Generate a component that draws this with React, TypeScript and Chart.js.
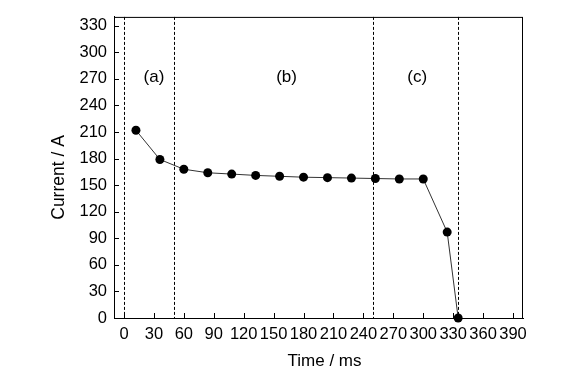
import React, { useEffect, useRef } from "react";
import { Chart, registerables } from "chart.js";

Chart.register(...registerables);

const timeMs = [12, 36, 60, 84, 108, 132, 156, 180, 204, 228, 252, 276, 300, 324, 335];
const currentA = [212, 179, 168, 164, 162.5, 161, 160, 159, 158.5, 158, 157.5, 157, 157, 97, 0];
const xTickValues = [0, 30, 60, 90, 120, 150, 180, 210, 240, 270, 300, 330, 360, 390];
const yTickValues = [0, 30, 60, 90, 120, 150, 180, 210, 240, 270, 300, 330];
const phaseBoundaries = [0, 50, 250, 335];
const phaseLabels = ["(a)", "(b)", "(c)"];
const phaseLabelX = [30, 163, 294];
const phaseLabelY = 272;
const xTitle = "Time / ms";
const yTitle = "Current / A";

const FONT = "Arial, 'Liberation Sans', sans-serif";

const decorPlugin = {
  id: "decor",
  afterDraw(chart: any) {
    const { ctx, chartArea, scales } = chart;
    const xs = scales.x;
    const ys = scales.y;
    ctx.save();
    // frame
    ctx.strokeStyle = "#000";
    ctx.lineWidth = 1;
    ctx.setLineDash([]);
    ctx.strokeRect(chartArea.left + 0.5, chartArea.top + 0.5, chartArea.right - chartArea.left - 1, chartArea.bottom - chartArea.top);
    // inward ticks
    ctx.beginPath();
    for (const v of xTickValues) {
      const px = Math.round(xs.getPixelForValue(v)) + 0.5;
      ctx.moveTo(px, chartArea.bottom);
      ctx.lineTo(px, chartArea.bottom - 5);
    }
    for (const v of yTickValues) {
      const py = Math.round(ys.getPixelForValue(v)) + 0.5;
      ctx.moveTo(chartArea.left, py);
      ctx.lineTo(chartArea.left + 5, py);
    }
    ctx.stroke();
    // dashed phase lines
    ctx.setLineDash([3, 2]);
    ctx.beginPath();
    for (const v of phaseBoundaries) {
      const px = Math.round(xs.getPixelForValue(v)) + 0.5;
      ctx.moveTo(px, chartArea.top);
      ctx.lineTo(px, chartArea.bottom);
    }
    ctx.stroke();
    ctx.setLineDash([]);
    // phase labels
    ctx.fillStyle = "#000";
    ctx.font = `17px ${FONT}`;
    ctx.textAlign = "center";
    ctx.textBaseline = "middle";
    phaseLabels.forEach((t, i) => {
      ctx.fillText(t, xs.getPixelForValue(phaseLabelX[i]), ys.getPixelForValue(phaseLabelY));
    });
    // axis titles
    ctx.font = `17px ${FONT}`;
    ctx.fillText(xTitle, (chartArea.left + chartArea.right) / 2 + 6, 361);
    ctx.translate(59, (chartArea.top + chartArea.bottom) / 2 + 10);
    ctx.rotate(-Math.PI / 2);
    ctx.font = `17.5px ${FONT}`;
    ctx.fillText(yTitle, 0, 0);
    ctx.restore();
  },
};

export default function App() {
  const ref = useRef<HTMLCanvasElement>(null);
  useEffect(() => {
    document.body.style.margin = "0";
    const chart = new Chart(ref.current as HTMLCanvasElement, {
      type: "line",
      data: {
        datasets: [
          {
            data: timeMs.map((x, i) => ({ x, y: currentA[i] })),
            borderColor: "#333",
            borderWidth: 1,
            pointRadius: 4.5,
            pointBackgroundColor: "#000",
            pointBorderColor: "#000",
            pointBorderWidth: 0,
            tension: 0,
            clip: false as any,
          },
        ],
      },
      options: {
        responsive: false,
        animation: false,
        layout: { padding: { top: 16, right: 55, left: 0, bottom: 0 } },
        plugins: { legend: { display: false }, tooltip: { enabled: false } },
        scales: {
          x: {
            type: "linear",
            min: -10,
            max: 400,
            afterBuildTicks: (s: any) => {
              s.ticks = xTickValues.map((v) => ({ value: v }));
            },
            afterFit: (s: any) => {
              s.height = 55;
            },
            grid: { display: false, drawTicks: false },
            border: { display: true, color: "#000", width: 1 },
            ticks: {
              autoSkip: false,
              maxRotation: 0,
              padding: 7,
              color: "#000",
              font: { family: FONT, size: 16.5 },
            },
          },
          y: {
            type: "linear",
            min: 0,
            max: 340,
            afterBuildTicks: (s: any) => {
              s.ticks = yTickValues.map((v) => ({ value: v }));
            },
            afterFit: (s: any) => {
              s.width = 114;
            },
            grid: { display: false, drawTicks: false },
            border: { display: true, color: "#000", width: 1 },
            ticks: {
              autoSkip: false,
              padding: 7,
              color: "#000",
              font: { family: FONT, size: 16.5 },
            },
          },
        },
      },
      plugins: [decorPlugin],
    });
    return () => chart.destroy();
  }, []);
  return (
    <div style={{ width: 578, height: 373, background: "#fff" }}>
      <canvas ref={ref} width={578} height={373} />
    </div>
  );
}
